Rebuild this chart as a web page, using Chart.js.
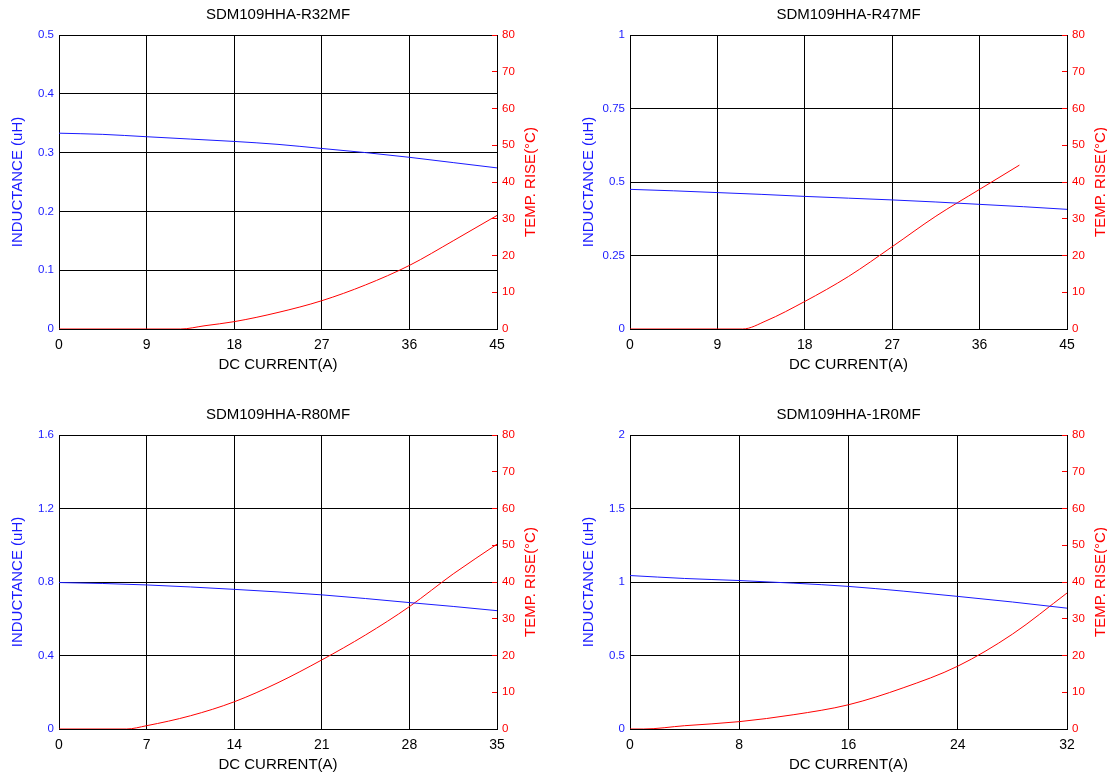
<!DOCTYPE html>
<html>
<head>
<meta charset="utf-8">
<script src="https://cdn.jsdelivr.net/npm/chart.js@4.4.0/dist/chart.umd.min.js"></script>
<style>
  html, body { margin: 0; padding: 0; background: #fff; overflow: hidden; }
  .box { position: absolute; }
</style>
</head>
<body>
<div class="box" style="left:0px;top:0px;width:553px;height:377px"><canvas id="c1"></canvas></div>
<div class="box" style="left:553px;top:0px;width:554px;height:377px"><canvas id="c2"></canvas></div>
<div class="box" style="left:0px;top:400px;width:553px;height:377px"><canvas id="c3"></canvas></div>
<div class="box" style="left:553px;top:400px;width:554px;height:377px"><canvas id="c4"></canvas></div>
<script>
// ---- data ----
var titles = ['SDM109HHA-R32MF', 'SDM109HHA-R47MF', 'SDM109HHA-R80MF', 'SDM109HHA-1R0MF'];

var r32Current = [0, 4.5, 9, 13.5, 18, 22.5, 27, 31.5, 36, 40.5, 45];
var r32Inductance = [0.333, 0.331, 0.327, 0.323, 0.319, 0.314, 0.307, 0.300, 0.292, 0.283, 0.274];
var r32TempCurrent = [0, 12.5, 15, 18, 22.5, 27, 31.5, 36, 40.5, 45];
var r32Temp = [0, 0, 0.9, 2, 4.5, 7.7, 12, 17.3, 24, 30.9];

var r47Current = [0, 4.5, 9, 13.5, 18, 22.5, 27, 31.5, 36, 40.5, 45];
var r47Inductance = [0.475, 0.470, 0.464, 0.458, 0.451, 0.445, 0.439, 0.432, 0.424, 0.416, 0.407];
var r47TempCurrent = [0, 11.6, 14, 18, 22.5, 27, 31.5, 36, 40.1];
var r47Temp = [0, 0, 2.2, 7.5, 14.3, 22.4, 30.7, 38, 44.6];

var r80Current = [0, 3.5, 7, 10.5, 14, 17.5, 21, 24.5, 28, 31.5, 35];
var r80Inductance = [0.797, 0.792, 0.784, 0.773, 0.760, 0.746, 0.730, 0.710, 0.688, 0.667, 0.644];
var r80TempCurrent = [0, 5.4, 7, 10.5, 14, 17.5, 21, 24.5, 28, 31.5, 35];
var r80Temp = [0, 0, 0.9, 3.6, 7.4, 12.6, 18.8, 25.6, 33.3, 42.2, 50.3];

var r10Current = [0, 4, 8, 12, 16, 20, 24, 28, 32];
var r10Inductance = [1.044, 1.024, 1.010, 0.992, 0.970, 0.938, 0.902, 0.864, 0.822];
var r10TempCurrent = [0, 1, 4, 8, 12, 16, 20, 24, 28, 32];
var r10Temp = [0, 0, 0.9, 2.0, 3.9, 6.6, 11.2, 17.1, 25.8, 37];

// tick labels
var r32XTicks = [0, 9, 18, 27, 36, 45];
var r47XTicks = [0, 9, 18, 27, 36, 45];
var r80XTicks = [0, 7, 14, 21, 28, 35];
var r10XTicks = [0, 8, 16, 24, 32];
var r32LTicks = [0, 0.1, 0.2, 0.3, 0.4, 0.5];
var r47LTicks = [0, 0.25, 0.5, 0.75, 1];
var r80LTicks = [0, 0.4, 0.8, 1.2, 1.6];
var r10LTicks = [0, 0.5, 1, 1.5, 2];
var tempTicks = [0, 10, 20, 30, 40, 50, 60, 70, 80];

var xTitle = 'DC CURRENT(A)';
var leftTitle = 'INDUCTANCE (uH)';
var rightTitle = 'TEMP. RISE(\u00B0C)';

Chart.defaults.font.family = 'Arial, "Liberation Sans", sans-serif';
Chart.defaults.color = '#000';

function pts(xs, ys) {
    return xs.map(function(x, i) { return { x: x, y: ys[i] }; });
}

function useTicks(arr) {
    return function(scale) {
        scale.ticks = arr.map(function(v) { return { value: v }; });
    };
}

function plain(v) { return String(v); }

// right axis title reads bottom-to-top like the left one
var rightTitlePlugin = {
    id: 'rightTitle',
    afterDraw: function(chart, args, opts) {
        var s = chart.scales.y1;
        var ctx = chart.ctx;
        ctx.save();
        ctx.translate(s.left + opts.offset, (chart.chartArea.top + chart.chartArea.bottom) / 2);
        ctx.rotate(-Math.PI / 2);
        ctx.font = '15px Arial, "Liberation Sans", sans-serif';
        ctx.fillStyle = '#ff0000';
        ctx.textAlign = 'center';
        ctx.textBaseline = 'middle';
        ctx.fillText(opts.text, 0, 0);
        ctx.restore();
    }
};

function makeChart(id, title, cur, ind, tcur, temp, xTicks, lTicks, padLeft, rightWidth) {
    var ctx = document.getElementById(id).getContext('2d');
    return new Chart(ctx, {
        type: 'line',
        data: {
            datasets: [{
                label: 'Inductance',
                data: pts(cur, ind),
                yAxisID: 'y',
                borderColor: '#1a1aff',
                borderWidth: 1,
                pointRadius: 0,
                cubicInterpolationMode: 'monotone'
            }, {
                label: 'Temp rise',
                data: pts(tcur, temp),
                yAxisID: 'y1',
                borderColor: '#ff0000',
                borderWidth: 1,
                pointRadius: 0,
                cubicInterpolationMode: 'monotone'
            }]
        },
        options: {
            responsive: true,
            maintainAspectRatio: false,
            animation: false,
            layout: { padding: { left: padLeft, right: 0, top: 0, bottom: 0 } },
            plugins: {
                legend: { display: false },
                tooltip: { enabled: false },
                title: {
                    display: true,
                    text: title,
                    fullSize: false,
                    color: '#000',
                    font: { size: 15, weight: 'normal' },
                    padding: { top: 6, bottom: 11 }
                },
                rightTitle: { text: rightTitle, offset: 34 }
            },
            scales: {
                x: {
                    type: 'linear',
                    min: xTicks[0],
                    max: xTicks[xTicks.length - 1],
                    afterBuildTicks: useTicks(xTicks),
                    afterFit: function(s) { s.height = 48; },
                    grid: { color: '#000', drawTicks: false },
                    border: { color: '#000' },
                    ticks: { color: '#000', font: { size: 14 }, padding: 8, callback: plain },
                    title: { display: true, text: xTitle, color: '#000', font: { size: 15 }, padding: { top: 4, bottom: 3 } }
                },
                y: {
                    position: 'left',
                    min: lTicks[0],
                    max: lTicks[lTicks.length - 1],
                    afterBuildTicks: useTicks(lTicks),
                    afterFit: function(s) { s.width = 59; },
                    grid: { color: '#000', drawTicks: false },
                    border: { color: '#000' },
                    ticks: { color: '#1a1aff', font: { size: 11.5 }, padding: 5, callback: plain },
                    title: { display: true, text: leftTitle, color: '#1a1aff', font: { size: 15 }, padding: { top: 9, bottom: 0 } }
                },
                y1: {
                    position: 'right',
                    min: 0,
                    max: 80,
                    afterBuildTicks: useTicks(tempTicks),
                    afterFit: function(s) { s.width = rightWidth; },
                    grid: { drawOnChartArea: false, color: '#ff0000', tickLength: -5 },
                    border: { color: '#000' },
                    ticks: { color: '#ff0000', font: { size: 11.5 }, padding: 10, callback: plain }
                }
            }
        },
        plugins: [rightTitlePlugin]
    });
}

makeChart('c1', titles[0], r32Current, r32Inductance, r32TempCurrent, r32Temp, r32XTicks, r32LTicks, 0, 56);
makeChart('c2', titles[1], r47Current, r47Inductance, r47TempCurrent, r47Temp, r47XTicks, r47LTicks, 18, 40);
makeChart('c3', titles[2], r80Current, r80Inductance, r80TempCurrent, r80Temp, r80XTicks, r80LTicks, 0, 56);
makeChart('c4', titles[3], r10Current, r10Inductance, r10TempCurrent, r10Temp, r10XTicks, r10LTicks, 18, 40);
</script>
</body>
</html>
